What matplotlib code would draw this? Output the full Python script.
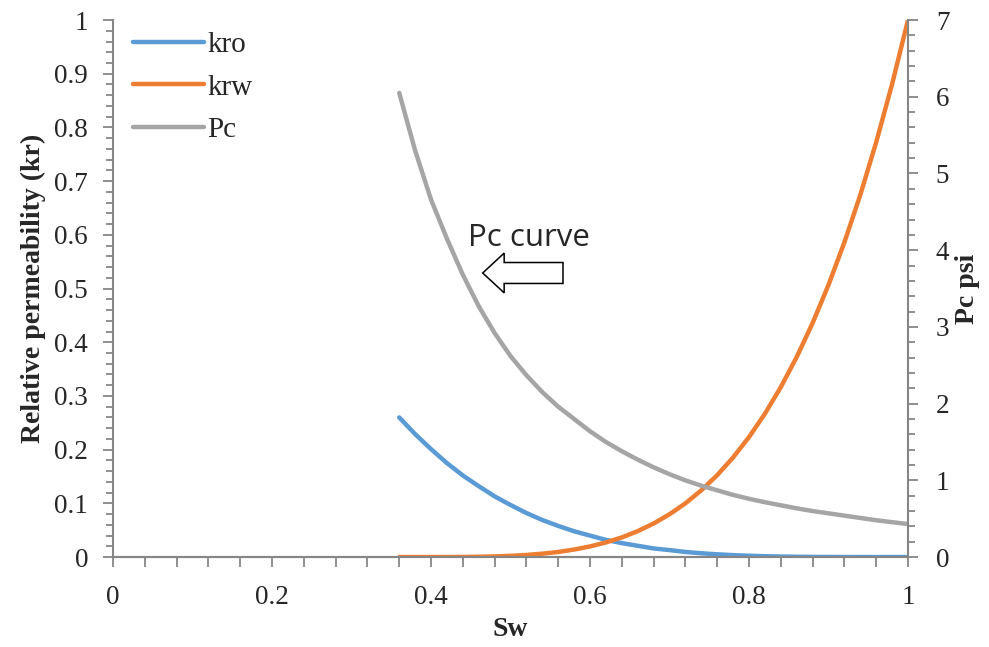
import numpy as np
import matplotlib
matplotlib.use('Agg')
import matplotlib.pyplot as plt
from matplotlib.patches import FancyArrow
from matplotlib.ticker import MultipleLocator

# 读图得到的数据
sw = [0.36, 0.38, 0.40, 0.42, 0.44, 0.46, 0.48, 0.50, 0.52, 0.54, 0.56,
      0.58, 0.60, 0.62, 0.64, 0.66, 0.68, 0.70, 0.72, 0.74, 0.76, 0.78,
      0.80, 0.82, 0.84, 0.86, 0.88, 0.90, 0.92, 0.94, 0.96, 0.98, 1.00]
kro = [0.260, 0.229, 0.201, 0.175, 0.152, 0.132, 0.113, 0.097, 0.082, 0.069, 0.058,
       0.048, 0.040, 0.032, 0.026, 0.021, 0.016, 0.013, 0.0095, 0.0071, 0.0051, 0.0036,
       0.0025, 0.0016, 0.0010, 0.0006, 0.0003, 0.0002, 0.0001, 0.0, 0.0, 0.0, 0.0]
krw = [0.0, 0.0, 0.0, 0.0001, 0.0002, 0.0006, 0.0012, 0.0023, 0.0039, 0.0063, 0.0095,
       0.0140, 0.0198, 0.0272, 0.0366, 0.0483, 0.0625, 0.0797, 0.1001, 0.1243, 0.1526, 0.1855,
       0.2234, 0.2669, 0.3164, 0.3725, 0.4358, 0.5068, 0.5862, 0.6745, 0.7725, 0.8807, 1.0]
pc = [6.05, 5.30, 4.66, 4.15, 3.68, 3.27, 2.92, 2.62, 2.37, 2.15, 1.96,
      1.80, 1.64, 1.50, 1.38, 1.27, 1.17, 1.08, 1.00, 0.93, 0.87, 0.81,
      0.76, 0.715, 0.675, 0.635, 0.60, 0.57, 0.54, 0.51, 0.48, 0.455, 0.43]

x_ticks = [0, 0.2, 0.4, 0.6, 0.8, 1.0]
x_labels = ['0', '0.2', '0.4', '0.6', '0.8', '1']
kr_ticks = [0, 0.1, 0.2, 0.3, 0.4, 0.5, 0.6, 0.7, 0.8, 0.9, 1.0]
kr_labels = ['0', '0.1', '0.2', '0.3', '0.4', '0.5', '0.6', '0.7', '0.8', '0.9', '1']
pc_ticks = [0, 1, 2, 3, 4, 5, 6, 7]

plt.rcParams['font.family'] = ['Liberation Serif', 'DejaVu Serif']
axis_grey = '#868686'
text_col = '#262626'

fig = plt.figure(figsize=(9.89, 6.47), dpi=100)
ax = fig.add_axes([0.1143, 0.139, 0.8038, 0.830])
ax2 = ax.twinx()

l1, = ax.plot(sw, kro, color='#5B9BD5', lw=3.2, solid_capstyle='round', label='kro')
l2, = ax.plot(sw, krw, color='#ED7D31', lw=3.2, solid_capstyle='round', label='krw')
l3, = ax2.plot(sw, pc, color='#A5A5A5', lw=3.2, solid_capstyle='round', label='Pc')

ax.set_ylim(0, 1)
ax2.set_ylim(0, 7)

ax.set_xticks(x_ticks)
ax.set_xticklabels(x_labels)
ax.xaxis.set_minor_locator(MultipleLocator(0.04))
ax.set_yticks(kr_ticks)
ax.set_yticklabels(kr_labels)
ax.yaxis.set_minor_locator(MultipleLocator(0.02))
ax2.set_yticks(pc_ticks)
ax2.yaxis.set_minor_locator(MultipleLocator(0.2))
ax.set_xlim(0, 1)

for a in (ax, ax2):
    a.spines['top'].set_visible(False)
    for s in a.spines.values():
        s.set_color(axis_grey)
        s.set_linewidth(1.5)
    a.tick_params(which='both', direction='out', color=axis_grey, width=1.3,
                  labelsize=19.5, labelcolor=text_col)
    a.tick_params(which='major', length=7)
    a.tick_params(which='minor', length=5)
ax.tick_params(axis='x', which='minor', length=7)
ax.tick_params(axis='x', pad=13)
ax.tick_params(axis='y', pad=11)
ax2.tick_params(axis='y', pad=13)
ax.spines['right'].set_visible(False)
ax2.spines['left'].set_visible(False)

ax.set_xlabel('Sw', fontsize=20, fontweight='bold', color=text_col, labelpad=5)
ax.set_ylabel('Relative permeability (kr)', fontsize=20, fontweight='bold', color=text_col, labelpad=6)
ax2.set_ylabel('Pc psi', fontsize=20, fontweight='bold', color=text_col, rotation=90, labelpad=4)

leg = ax.legend(handles=[l1, l2, l3], loc='upper left', frameon=False, fontsize=21,
                handlelength=2.45, handletextpad=0.12, labelspacing=0.55,
                bbox_to_anchor=(0.01, 1.0), borderaxespad=0.0)
for t in leg.get_texts():
    t.set_color(text_col)

# 注释
ax.text(0.446, 0.595, 'Pc curve', fontsize=22.5, family=['Open Sans', 'DejaVu Sans'],
        color=text_col, va='center', ha='left')
ax.add_patch(FancyArrow(0.566, 0.529, -0.101, 0, width=0.039, head_width=0.074,
                        head_length=0.027, length_includes_head=True,
                        fc='white', ec='black', lw=1.1, zorder=5))

plt.savefig('out.png', dpi=100)
